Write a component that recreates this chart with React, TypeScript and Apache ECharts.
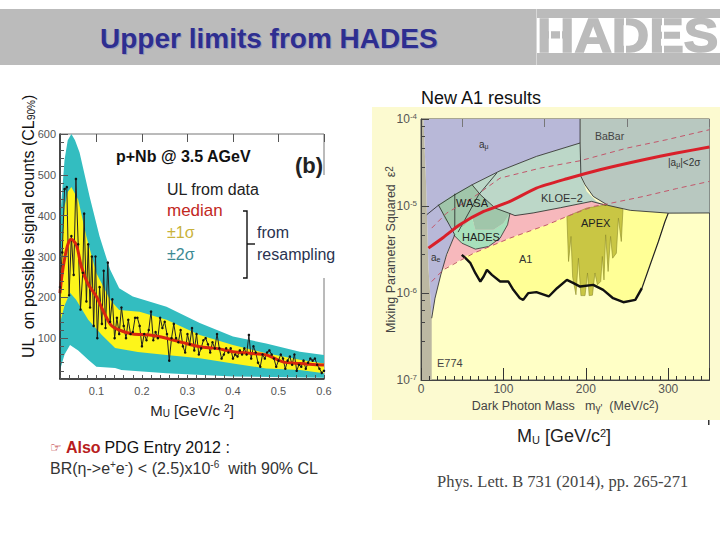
import React, { useEffect, useRef } from "react";
import * as echarts from "echarts";

const SANS = "'Liberation Sans', Arial, sans-serif";

// ---- Left panel: UL on signal counts vs M_U ----
const sigma2Upper = [[0.02,390],[0.03,537],[0.037,585],[0.045,600],[0.053,585],[0.063,555],[0.085,447],[0.107,349],[0.13,268],[0.15,222],[0.18,202],[0.254,177],[0.327,137],[0.4,104],[0.473,87],[0.547,67],[0.6,59]];
const sigma1Upper = [[0.02,243],[0.03,422],[0.037,458],[0.045,470],[0.06,439],[0.078,349],[0.1,259],[0.13,194],[0.15,169],[0.195,165],[0.254,145],[0.327,108],[0.4,83],[0.473,63],[0.547,47],[0.6,38]];
const sigma1Lower = [[0.6,14],[0.547,22],[0.473,26],[0.4,38],[0.327,51],[0.254,59],[0.191,66],[0.141,76],[0.112,108],[0.082,145],[0.055,195],[0.042,211],[0.03,180],[0.02,137]];
const sigma2Lower = [[0.6,3],[0.4,6],[0.254,14],[0.155,22],[0.141,27],[0.1,30],[0.082,47],[0.06,70],[0.042,83],[0.03,60],[0.02,22]];
const medianLine = [[0.02,210],[0.024,251],[0.031,300],[0.038,332],[0.045,342],[0.056,328],[0.067,275],[0.081,234],[0.1,202],[0.114,169],[0.132,132],[0.15,120],[0.18,110],[0.217,108],[0.254,100],[0.29,89],[0.327,79],[0.363,75],[0.4,67],[0.437,63],[0.473,59],[0.51,42],[0.547,38],[0.6,34]];
const dataLine = [[0.02,225],[0.025,310],[0.03,465],[0.035,470],[0.04,205],[0.045,350],[0.05,255],[0.055,490],[0.06,330],[0.065,170],[0.07,260],[0.073,405],[0.078,190],[0.082,330],[0.086,175],[0.09,300],[0.094,130],[0.098,300],[0.102,100],[0.107,225],[0.112,135],[0.116,265],[0.12,125],[0.125,285],[0.13,140],[0.135,195],[0.14,100],[0.145,150],[0.15,110],[0.155,175],[0.16,130],[0.165,100],[0.17,145],[0.175,110],[0.18,115],[0.185,150],[0.19,150],[0.195,130],[0.2,80],[0.205,110],[0.21,95],[0.215,120],[0.22,165],[0.225,95],[0.23,115],[0.235,100],[0.24,150],[0.245,125],[0.25,140],[0.255,110],[0.26,45],[0.265,100],[0.27,135],[0.275,100],[0.28,90],[0.285,120],[0.29,80],[0.295,65],[0.3,110],[0.305,85],[0.31,125],[0.315,70],[0.32,110],[0.325,60],[0.33,75],[0.335,95],[0.34,100],[0.345,85],[0.35,65],[0.355,90],[0.36,75],[0.365,110],[0.37,75],[0.375,50],[0.38,60],[0.385,75],[0.39,65],[0.395,75],[0.4,50],[0.405,60],[0.41,55],[0.415,70],[0.42,60],[0.425,75],[0.43,60],[0.435,108],[0.44,50],[0.445,80],[0.45,65],[0.455,40],[0.46,30],[0.465,60],[0.47,50],[0.475,65],[0.48,70],[0.485,60],[0.49,50],[0.495,30],[0.5,45],[0.505,60],[0.51,50],[0.515,25],[0.52,45],[0.525,55],[0.53,35],[0.535,60],[0.54,20],[0.545,35],[0.55,30],[0.555,45],[0.56,25],[0.565,40],[0.57,50],[0.575,45],[0.58,50],[0.585,35],[0.59,25],[0.595,15],[0.6,20]];
const leftXLabels = [0.1, 0.2, 0.3, 0.4, 0.5, 0.6];
const leftXMinor = [0.02,0.04,0.06,0.08,0.1,0.12,0.14,0.16,0.18,0.2,0.22,0.24,0.26,0.28,0.3,0.32,0.34,0.36,0.38,0.4,0.42,0.44,0.46,0.48,0.5,0.52,0.54,0.56,0.58,0.6];

// ---- Right panel: exclusion regions, [mass MeV, log10(eps^2)] ----
const e774 = [[0,-4],[3,-4],[6,-4.7],[9,-5.7],[13,-6.29],[13,-7],[0,-7]];
const aePurple = [[3,-4],[193,-4],[193,-4.276],[140,-4.43],[96,-4.595],[62,-4.756],[41,-4.871],[41,-5.331],[31,-5.561],[24,-5.791],[17,-6.06],[13,-6.29],[9,-5.7],[6,-4.7]];
const kloe = [[21,-4.993],[41,-4.871],[62,-4.756],[96,-4.595],[140,-4.43],[193,-4.276],[195,-4.679],[201,-4.832],[213,-4.947],[225,-4.993],[207,-4.947],[169,-5.02],[136,-5.08],[114,-5.11],[106,-5.08],[90,-5.024],[72,-4.87],[62,-4.756]];
const pink = [[41,-5.331],[25,-5.734],[64,-5.542],[108,-5.369],[153,-5.216],[177,-5.12],[209,-5.005],[225,-4.98],[207,-4.947],[169,-5.02],[136,-5.08],[108,-5.082],[62,-5.2]];
const a1Upper = [[52,-5.58],[64,-5.542],[108,-5.369],[153,-5.216],[177,-5.12],[209,-5.005],[227,-4.993],[245.5,-5.043],[298,-5.082]];
const a1Curve = [[49.5,-5.561],[54,-5.6],[60,-5.657],[66,-5.772],[72,-5.868],[76,-5.81],[80,-5.734],[86,-5.791],[96,-5.868],[106,-5.868],[112,-5.964],[120,-6.06],[124,-6.079],[130,-6.002],[140,-5.99],[155,-6.04],[165,-5.945],[177,-5.85],[185,-5.887],[193,-5.926],[209,-5.906],[221,-5.964],[233,-6.06],[245.5,-6.106],[260,-6.079],[268,-5.945]];
const a1Rise = [[268,-5.945],[278,-5.676],[288,-5.408],[296,-5.178],[300,-5.082]];
const apex = [[177,-5.12],[179,-5.638],[182,-5.35],[184,-5.82],[188,-6.02],[191,-5.6],[194,-6.03],[199,-6.03],[202,-5.77],[204,-6.03],[208,-6.025],[211,-5.77],[214,-5.906],[218,-5.868],[220,-5.58],[222,-5.85],[224,-5.331],[227,-5.753],[230,-5.35],[232.5,-5.6],[237,-5.542],[239.5,-5.139],[243,-5.408],[245,-5.043],[243.5,-5.005],[225,-4.986],[201,-5.024]];
const babar = [[193,-4],[350,-4],[350,-5.08],[300,-5.082],[254,-5.05],[227,-4.993],[209,-4.89],[199,-4.756],[194,-4.66],[193,-4.276]];
const wasa = [[21,-4.986],[41,-4.859],[62,-4.756],[72,-4.871],[90,-5.024],[108,-5.082],[100,-5.197],[88,-5.274],[66,-5.274],[62,-5.139],[52,-5.235],[41,-5.274],[29,-5.158]];
const hades = [[41,-5.274],[52,-5.235],[62,-5.139],[66,-5.274],[88,-5.274],[100,-5.197],[108,-5.082],[105,-5.216],[96,-5.369],[82,-5.465],[66,-5.496],[49.5,-5.427],[39.5,-5.331]];
const redMain = [[9,-5.484],[27,-5.362],[47,-5.216],[76,-5.063],[108,-4.947],[140,-4.794],[177,-4.687],[217,-4.583],[270,-4.468],[310,-4.391],[350,-4.322]];
const redUpper = [[13,-5.254],[31,-5.082],[62,-4.91],[96,-4.679],[145,-4.564],[193,-4.48],[250,-4.334],[298,-4.238],[350,-4.123]];
const redLower = [[13,-5.868],[27,-5.734],[64,-5.542],[108,-5.369],[153,-5.216],[177,-5.12],[209,-5.005],[225,-4.978],[270,-4.89],[310,-4.8],[350,-4.717]];
const kloeTopLine = [[7,-5.1],[21,-4.993],[41,-4.871],[62,-4.756],[96,-4.595],[140,-4.43],[193,-4.276]];
const kloeBottomLine = [[225,-4.993],[207,-4.947],[169,-5.02],[136,-5.08],[114,-5.11],[106,-5.08],[90,-5.024],[72,-4.87],[62,-4.756]];
const babarLine = [[193,-4],[193,-4.276],[194,-4.66],[199,-4.756],[209,-4.89],[227,-4.993],[254,-5.05],[300,-5.082],[350,-5.08]];
const wasaVertical = [[41,-4.859],[41,-5.274]];
const wasaDiagonal = [[92,-4.62],[70,-4.87],[45,-5.3]];
const aeEdge = [[21,-4.986],[41,-5.331],[31,-5.561],[24,-5.791],[17,-6.06],[13,-6.29]];
const hadesEdge = [[108,-5.082],[105,-5.216],[96,-5.369],[82,-5.465],[66,-5.496],[49.5,-5.427],[39.5,-5.331]];
const rightXMid = [50, 150, 250, 350];

const toLog = (pts: number[][]) => pts.map(([x, e]) => [x, Math.pow(10, e)]);

function polygon(name: string, pts: number[][], fill: string, axis: number, stroke?: string) {
  return {
    type: "custom",
    name,
    coordinateSystem: "cartesian2d",
    xAxisIndex: axis === 0 ? 0 : 2,
    yAxisIndex: axis,
    silent: true,
    clip: true,
    data: pts,
    renderItem: (params: any, api: any) => {
      if (params.dataIndex !== 0) return null;
      return {
        type: "polygon",
        shape: { points: pts.map((p) => api.coord(p)) },
        style: { fill, stroke: stroke || "none", lineWidth: stroke ? 0.6 : 0 },
      };
    },
  };
}

function curve(name: string, pts: number[][], color: string, width: number, axis: number, extra: any = {}) {
  return {
    type: "line",
    name,
    xAxisIndex: axis === 0 ? 0 : 2,
    yAxisIndex: axis,
    data: pts,
    showSymbol: false,
    symbol: "none",
    silent: true,
    lineStyle: { color, width, ...(extra.lineStyle || {}) },
    ...(extra.series || {}),
  };
}

function txt(text: string, x: number, y: number, fontSize: number, fill: string, extra: any = {}) {
  return {
    type: "text",
    x,
    y,
    z: 70,
    silent: true,
    style: { text, fontSize, fill, fontFamily: SANS, verticalAlign: "middle", ...extra },
  };
}

function whiteRect(x: number, y: number, width: number, height: number, fill = "#fff", z = 60) {
  return { type: "rect", z, silent: true, shape: { x, y, width, height }, style: { fill } };
}

const subRich = {
  s: { fontSize: 10, fontFamily: SANS, verticalAlign: "bottom", lineHeight: 14, padding: [6, 0, 0, 0] },
  t: { fontSize: 10, fontFamily: SANS, verticalAlign: "top", lineHeight: 14, padding: [0, 0, 6, 0] },
};
const smallSub = { s: { fontSize: 7, fontFamily: SANS, fill: "#333", verticalAlign: "bottom", lineHeight: 12, padding: [4, 0, 0, 0] } };

export default function App() {
  const ref = useRef<HTMLDivElement>(null);
  useEffect(() => {
    document.body.style.margin = "0";
    const chart = echarts.init(ref.current!, null, { renderer: "svg" });
    const greyTick = { color: "#555", width: 1 };
    chart.setOption({
      animation: false,
      backgroundColor: "#fff",
      grid: [
        { left: 60, top: 134, width: 264, height: 245, show: true, borderColor: "#777", borderWidth: 1, backgroundColor: "#fff" },
        { left: 421, top: 119, width: 288.5, height: 261, show: true, borderColor: "#555", borderWidth: 1, backgroundColor: "#ffffc6" },
      ],
      xAxis: [
        {
          type: "value", gridIndex: 0, min: 0.02, max: 0.6, z: 10,
          splitLine: { show: false },
          axisLine: { lineStyle: { color: "#222", width: 1.5 } },
          axisTick: { inside: true, length: 4, lineStyle: greyTick, customValues: leftXMinor },
          axisLabel: { customValues: leftXLabels, color: "#555", fontSize: 11, fontFamily: SANS, margin: 6, formatter: (v: number) => v.toFixed(1) },
          name: "M{s|U} [GeV/c {t|2}]", nameLocation: "middle", nameGap: 24, nameMoveOverlap: false,
          nameTextStyle: { fontSize: 15, fontFamily: SANS, color: "#222", rich: subRich },
        },
        {
          type: "value", gridIndex: 0, min: 0.02, max: 0.6, z: 10,
          splitLine: { show: false }, axisLine: { show: false }, axisLabel: { show: false },
          axisTick: { inside: true, length: 8, lineStyle: greyTick, customValues: leftXLabels },
        },
        {
          type: "value", gridIndex: 1, min: 0, max: 350, interval: 100, z: 10,
          splitLine: { show: false },
          axisLine: { lineStyle: { color: "#444" } },
          axisTick: { inside: true, length: 12, lineStyle: { color: "#333" } },
          minorTick: { show: true, splitNumber: 10, length: 4, lineStyle: { color: "#333" } },
          axisLabel: { color: "#555", fontSize: 12, fontFamily: SANS, margin: 3, showMaxLabel: false },
          name: "Dark Photon Mass   m{s|γ'}  (MeV/c{t|2})", nameLocation: "middle", nameGap: 19, nameMoveOverlap: false,
          nameTextStyle: { fontSize: 12.5, fontFamily: SANS, color: "#444", rich: subRich },
        },
        {
          type: "value", gridIndex: 1, min: 0, max: 350, z: 10,
          splitLine: { show: false }, axisLine: { show: false }, axisLabel: { show: false },
          axisTick: { inside: true, length: 8, lineStyle: { color: "#777" }, customValues: rightXMid },
        },
      ],
      yAxis: [
        {
          type: "value", gridIndex: 0, min: 0, max: 600, interval: 100, z: 10,
          splitLine: { show: false },
          axisLine: { lineStyle: { color: "#222", width: 1.5 } },
          axisTick: { inside: true, length: 8, lineStyle: greyTick },
          minorTick: { show: true, splitNumber: 5, length: 4, lineStyle: greyTick },
          axisLabel: { color: "#555", fontSize: 11, fontFamily: SANS, margin: 4, showMinLabel: false },
          name: "UL  on possible signal counts (CL{s|90%})", nameLocation: "middle", nameGap: 24, nameRotate: 90, nameMoveOverlap: false,
          nameTextStyle: { fontSize: 16, fontFamily: SANS, color: "#111", padding: [0, 0, 0, 60], rich: subRich },
        },
        {
          type: "log", logBase: 10, gridIndex: 1, min: 1e-7, max: 1e-4, z: 10,
          splitLine: { show: false },
          axisLine: { lineStyle: { color: "#444" } },
          axisTick: { inside: true, length: 8, lineStyle: { color: "#444" } },
          minorTick: { show: true, splitNumber: 5, length: 4, lineStyle: { color: "#444" } },
          axisLabel: {
            color: "#555", fontSize: 12, fontFamily: SANS, margin: 4,
            formatter: (v: number) => "10{t|" + Math.round(Math.log10(v)) + "}",
            rich: { t: { fontSize: 8, fontFamily: SANS, color: "#555", verticalAlign: "top", lineHeight: 14, padding: [0, 0, 5, 0] } },
          },
          name: "Mixing Parameter Squared  ε{t|2}", nameLocation: "middle", nameGap: 23, nameRotate: 90, nameMoveOverlap: false,
          nameTextStyle: { fontSize: 12.5, fontFamily: SANS, color: "#444", rich: subRich },
        },
      ],
      series: [
        polygon("2 sigma band", [...sigma2Upper, ...sigma2Lower], "#33bdc0", 0),
        polygon("1 sigma band", [...sigma1Upper, ...sigma1Lower], "#fdf51a", 0),
        curve("UL from data", dataLine, "#222", 1, 0, {
          series: { showSymbol: true, symbol: "circle", symbolSize: 2.5, itemStyle: { color: "#111" } },
        }),
        curve("median", medianLine, "#d8260f", 3, 0, { series: { smooth: 0.3 } }),

        polygon("pink", toLog(pink), "#f7b8bc", 1),
        polygon("A1", toLog([...a1Upper, ...a1Rise.slice().reverse(), ...a1Curve.slice().reverse()]), "#ffff96", 1),
        polygon("APEX", toLog(apex), "#c9c644", 1, "#8c8a2a"),
        polygon("E774", toLog(e774), "#bcb8a2", 1),
        polygon("a_e", toLog(aePurple), "#b8b8d8", 1),
        polygon("KLOE-2", toLog(kloe), "#bcd7c8", 1),
        polygon("BaBar", toLog(babar), "#b8c8c0", 1),
        polygon("WASA", toLog(wasa), "#a0c6aa", 1),
        polygon("HADES", toLog(hades), "#a8e0bc", 1),
        curve("A1 limit", toLog(a1Curve), "#111", 2.4, 1),
        curve("A1 limit rise", toLog(a1Rise), "#222", 1.2, 1),
        curve("KLOE top", toLog(kloeTopLine), "#222", 0.8, 1),
        curve("KLOE bottom", toLog(kloeBottomLine), "#222", 0.8, 1),
        curve("BaBar edge", toLog(babarLine), "#222", 0.8, 1),
        curve("WASA vertical", toLog(wasaVertical), "#222", 0.8, 1),
        curve("WASA diagonal", toLog(wasaDiagonal), "#222", 0.8, 1),
        curve("a_e edge", toLog(aeEdge), "#222", 0.8, 1),
        curve("HADES edge", toLog(hadesEdge), "#333", 0.8, 1),
        curve("a_mu +2 sigma", toLog(redUpper), "#c2566a", 1, 1, { lineStyle: { type: [5, 4] } }),
        curve("a_mu -2 sigma", toLog(redLower), "#c2566a", 1, 1, { lineStyle: { type: [5, 4] } }),
        curve("a_mu", toLog(redMain), "#d9202a", 3, 1, { series: { smooth: 0.2 } }),
      ],
      graphic: [
        // header
        { type: "rect", z: 40, silent: true, shape: { x: 0, y: 9, width: 720, height: 56 }, style: { fill: "#bbbbbb" } },
        whiteRect(536, 9, 1, 56, "#d8d8d8", 41),
        whiteRect(537, 18, 183, 35, "#ffffff", 41),
        { type: "text", x: 537, y: 36, scaleX: 1.08, z: 42, silent: true, style: { text: "HADES", fontSize: 48, fontWeight: "bold", fontFamily: SANS, fill: "#bbbbbb", stroke: "#bbbbbb", lineWidth: 1.5, verticalAlign: "middle" } },
        whiteRect(549, 18, 2, 35, "#fff", 43),
        whiteRect(560, 18, 2, 35, "#fff", 43),
        whiteRect(624, 18, 2, 35, "#fff", 43),
        whiteRect(662, 18, 2, 35, "#fff", 43),
        txt("Upper limits from HADES", 101, 39, 28, "#9a9ab8", { fontWeight: "bold" }),
        txt("Upper limits from HADES", 100, 38, 28, "#2e2e90", { fontWeight: "bold" }),

        // right panel backdrop
        { type: "rect", z: -1, silent: true, shape: { x: 372, y: 107, width: 348, height: 313 }, style: { fill: "#fcfad0" } },

        // left panel: white cover over frame, texts and bracket
        whiteRect(320, 175, 20, 103),
        txt("p+Nb @ 3.5 AGeV", 116, 156, 16, "#111", { fontWeight: "bold" }),
        txt("(b)", 295, 165, 22, "#222", { fontWeight: "bold" }),
        txt("UL from data", 167, 189, 16, "#222"),
        txt("median", 167, 210, 17, "#c2281e"),
        txt("±1σ", 167, 232, 16, "#c9b23a"),
        txt("±2σ", 167, 254, 16, "#3d8a94"),
        txt("from", 257, 232, 16, "#2a3350"),
        txt("resampling", 257, 254, 16, "#2a3350"),
        { type: "polyline", z: 61, silent: true, shape: { points: [[243, 211], [247, 211], [247, 278], [243, 278]] }, style: { stroke: "#111", lineWidth: 1.4, fill: "none" } },
        { type: "line", z: 61, silent: true, shape: { x1: 247, y1: 244, x2: 255, y2: 244 }, style: { stroke: "#111", lineWidth: 1.4 } },

        // right panel in-plot labels
        txt("a{s|μ}", 479, 144, 10, "#333", { rich: smallSub }),
        txt("BaBar", 595, 136, 10.5, "#444"),
        txt("|a{s|μ}|<2σ", 668, 162, 10, "#333", { rich: smallSub }),
        txt("a{s|e}", 431, 257, 10, "#333", { rich: smallSub }),
        txt("WASA", 456, 203, 11, "#222"),
        txt("KLOE−2", 541, 198, 11, "#333"),
        txt("HADES", 462, 237, 11, "#222"),
        txt("A1", 519, 259, 11, "#333"),
        txt("APEX", 581, 223, 11, "#222"),
        txt("E774", 437, 363, 11, "#444"),

        // free captions
        txt("New A1 results", 421, 98, 18, "#111"),
        txt("M{s|U} [GeV/c{t|2}]", 517, 436, 18, "#222", { rich: { s: { fontSize: 11, fill: "#222", fontFamily: SANS, verticalAlign: "bottom", lineHeight: 18, padding: [7, 0, 0, 0] }, t: { fontSize: 11, fill: "#222", fontFamily: SANS, verticalAlign: "top", lineHeight: 18, padding: [0, 0, 7, 0] } } }),
        whiteRect(708, 420, 1.5, 5, "#333", 45),
        { type: "text", x: 437, y: 481, z: 70, silent: true, style: { text: "Phys. Lett. B 731 (2014), pp. 265-271", fontSize: 16.5, fontFamily: "'Liberation Serif', serif", fill: "#444", verticalAlign: "middle" } },
        txt("{i|☞} {r|Also} {k|PDG Entry 2012 :}", 50, 447, 14, "#111", {
          rich: {
            i: { fontSize: 13, fill: "#b81c20" },
            r: { fontSize: 16, fontWeight: "bold", fill: "#b81c20", fontFamily: SANS },
            k: { fontSize: 16, fill: "#111", fontFamily: SANS },
          },
        }),
        txt("BR(η->e{u|+}e{u|-}) < (2.5)x10{u|-6}  with 90% CL", 50, 468, 16, "#333", {
          rich: { u: { fontSize: 10, fill: "#333", fontFamily: SANS, verticalAlign: "top", lineHeight: 17, padding: [0, 0, 6, 0] } },
        }),
      ],
    });
    return () => chart.dispose();
  }, []);
  return <div ref={ref} style={{ position: "fixed", left: 0, top: 0, width: 720, height: 540 }} />;
}
